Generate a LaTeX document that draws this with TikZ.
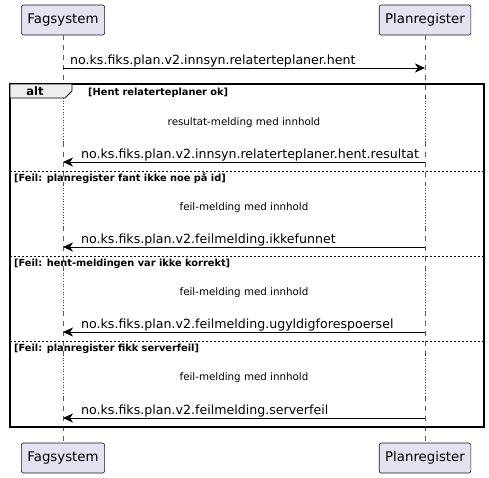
\documentclass[tikz,border=0pt]{standalone}
\usepackage{fontspec}
\setmainfont{DejaVu Sans}
\usetikzlibrary{arrows.meta}
\definecolor{partfill}{HTML}{E2E2F0}
\definecolor{partdraw}{HTML}{181818}
\definecolor{lifeline}{HTML}{181818}
\definecolor{delayred}{HTML}{8B1A3A}
\definecolor{tabfill}{HTML}{EEEEEE}
\begin{document}
\begin{tikzpicture}[x=1pt,y=-1pt,
  part/.style={draw=partdraw,fill=partfill,rounded corners=2pt,line width=0.6pt,minimum height=30pt,inner xsep=6pt,font=\fontsize{13.3}{16}\selectfont},
  life/.style={draw=lifeline!70,dash pattern=on 5pt off 5pt,line width=0.5pt},
  delayline/.style={draw=delayred,dotted,line width=0.7pt},
  msg/.style={draw=black,line width=0.8pt,-{Stealth[length=10pt,width=9pt,inset=3pt]}},
  msgtext/.style={font=\fontsize{12.6}{15}\selectfont,anchor=base west,inner sep=0pt},
  delaytext/.style={font=\fontsize{10.3}{12}\selectfont,anchor=base,inner sep=0pt},
  guard/.style={font=\bfseries\fontsize{9.8}{12}\selectfont,anchor=base west,inner sep=0pt},
  sep/.style={draw=black,dash pattern=on 2pt off 2pt,line width=0.6pt}]
\useasboundingbox (0,0) rectangle (489,477);
% participants
\node[part] (f1) at (63,20) {Fagsystem};
\node[part] (p1) at (425,20) {Planregister};
\node[part] (f2) at (63,458) {Fagsystem};
\node[part] (p2) at (425,458) {Planregister};
% lifelines
\foreach \a/\b in {35/98,142/185,226/270,311/355,396/443}{
  \draw[life] (63,\a) -- (63,\b);
  \draw[life] (425,\a) -- (425,\b);
}
\foreach \a/\b in {98/142,185/226,270/311,355/396}{
  \draw[delayline] (63,\a) -- (63,\b);
  \draw[delayline] (425,\a) -- (425,\b);
}
% first message
\coordinate (m1s) at (63,68); \coordinate (m1e) at (425,68);
\draw[msg] (m1s) -- (m1e);
\node[msgtext] (t1) at (70,64) {no.ks.fiks.plan.v2.innsyn.relaterteplaner.hent};
% alt frame
\draw[line width=1.5pt] (10,84) rectangle (484,427);
\draw[fill=tabfill,line width=0.8pt] (10,84) -- (72,84) -- (72,91) -- (65,98) -- (10,98) -- cycle;
\node[font=\bfseries\fontsize{11.5}{13}\selectfont,inner sep=0pt,anchor=base] (alt) at (35,95.5) {alt};
\node[guard] (g1) at (88,95) {[Hent relaterteplaner ok]};
% sections
\node[delaytext] (d1) at (244,125) {resultat-melding med innhold};
\coordinate (a2s) at (425,162); \coordinate (a2e) at (63,162);
\draw[msg] (a2s) -- (a2e);
\node[msgtext] (t2) at (81,158) {no.ks.fiks.plan.v2.innsyn.relaterteplaner.hent.resultat};
\coordinate (s1a) at (10,171); \coordinate (s1b) at (484,171);
\draw[sep] (s1a) -- (s1b);
\node[guard] (g2) at (14,181.5) {[Feil: planregister fant ikke noe på id]};

\node[delaytext] (d2) at (244,210) {feil-melding med innhold};
\coordinate (a3s) at (425,247); \coordinate (a3e) at (63,247);
\draw[msg] (a3s) -- (a3e);
\node[msgtext] (t3) at (81,243) {no.ks.fiks.plan.v2.feilmelding.ikkefunnet};
\coordinate (s2a) at (10,256); \coordinate (s2b) at (484,256);
\draw[sep] (s2a) -- (s2b);
\node[guard] (g3) at (14,266.5) {[Feil: hent-meldingen var ikke korrekt]};

\node[delaytext] (d3) at (244,295) {feil-melding med innhold};
\coordinate (a4s) at (425,332); \coordinate (a4e) at (63,332);
\draw[msg] (a4s) -- (a4e);
\node[msgtext] (t4) at (81,328) {no.ks.fiks.plan.v2.feilmelding.ugyldigforespoersel};
\coordinate (s3a) at (10,341); \coordinate (s3b) at (484,341);
\draw[sep] (s3a) -- (s3b);
\node[guard] (g4) at (14,351.5) {[Feil: planregister fikk serverfeil]};

\node[delaytext] (d4) at (244,380) {feil-melding med innhold};
\coordinate (a5s) at (425,418); \coordinate (a5e) at (63,418);
\draw[msg] (a5s) -- (a5e);
\node[msgtext] (t5) at (81,414) {no.ks.fiks.plan.v2.feilmelding.serverfeil};
\end{tikzpicture}
\end{document}
